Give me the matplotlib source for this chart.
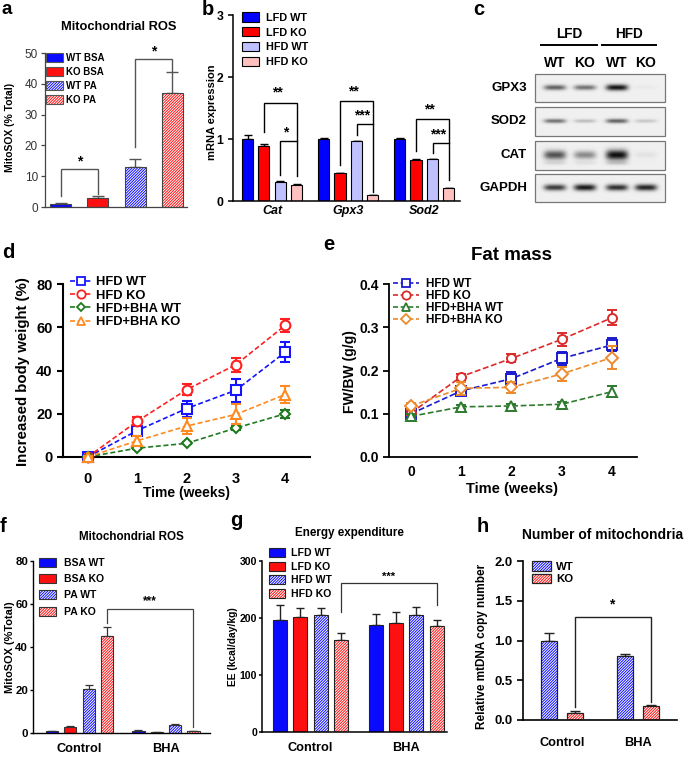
import numpy as np
import matplotlib
matplotlib.use('Agg')
import matplotlib.pyplot as plt
from matplotlib.patches import Patch, Rectangle
from matplotlib.lines import Line2D
from matplotlib.legend_handler import HandlerTuple

plt.rcParams['font.family'] = ['Liberation Sans', 'DejaVu Sans']
plt.rcParams['hatch.linewidth'] = 0.7

# ================= DATA =================
# a: Mitochondrial ROS
a_labels = ['WT BSA', 'KO BSA', 'WT PA', 'KO PA']
a_vals = [1.0, 3.0, 13.0, 37.0]
a_err = [0.2, 0.5, 2.5, 6.7]

# b: mRNA expression
b_genes = ['Cat', 'Gpx3', 'Sod2']
b_series = ['LFD WT', 'LFD KO', 'HFD WT', 'HFD KO']
b_lfd_wt = [1.00, 1.00, 1.00]
b_lfd_ko = [0.89, 0.45, 0.66]
b_hfd_wt = [0.31, 0.96, 0.67]
b_hfd_ko = [0.26, 0.09, 0.21]
b_lfd_wt_err = [0.07, 0.02, 0.015]
b_lfd_ko_err = [0.03, 0.005, 0.015]
b_hfd_wt_err = [0.01, 0.01, 0.01]
b_hfd_ko_err = [0.01, 0.005, 0.005]

# c: western blot band intensities (lanes: LFD WT, LFD KO, HFD WT, HFD KO)
c_diets = ['LFD', 'HFD']
c_lanes = ['WT', 'KO', 'WT', 'KO']
c_proteins = ['GPX3', 'SOD2', 'CAT', 'GAPDH']
c_gpx3 = [0.62, 0.55, 0.97, 0.03]
c_sod2 = [0.55, 0.22, 0.62, 0.18]
c_cat = [0.70, 0.45, 1.00, 0.06]
c_gapdh = [0.80, 0.95, 0.85, 0.90]

# d: increased body weight
weeks = [0, 1, 2, 3, 4]
d_series = ['HFD WT', 'HFD KO', 'HFD+BHA WT', 'HFD+BHA KO']
d_hfd_wt = [0, 12.2, 22.4, 30.9, 48.5]
d_hfd_ko = [0, 16.5, 31.1, 42.7, 60.9]
d_bha_wt = [0, 4.1, 6.3, 13.4, 20.0]
d_bha_ko = [0, 7.5, 14.3, 19.7, 28.9]
d_hfd_wt_err = [0.5, 1.8, 3.7, 5.4, 4.8]
d_hfd_ko_err = [0.5, 1.9, 2.5, 3.3, 3.1]
d_bha_wt_err = [0.3, 0.5, 0.5, 0.8, 1.9]
d_bha_ko_err = [0.5, 2.2, 3.6, 4.6, 4.0]

# e: fat mass
e_hfd_wt = [0.100, 0.153, 0.181, 0.228, 0.259]
e_hfd_ko = [0.102, 0.186, 0.228, 0.272, 0.322]
e_bha_wt = [0.094, 0.116, 0.118, 0.122, 0.151]
e_bha_ko = [0.118, 0.159, 0.161, 0.192, 0.230]
e_hfd_wt_err = [0.006, 0.010, 0.015, 0.015, 0.015]
e_hfd_ko_err = [0.006, 0.007, 0.009, 0.015, 0.017]
e_bha_wt_err = [0.006, 0.005, 0.005, 0.005, 0.013]
e_bha_ko_err = [0.006, 0.015, 0.012, 0.017, 0.026]

# f: Mitochondrial ROS, Control vs BHA
fgh_groups = ['Control', 'BHA']
f_series = ['BSA WT', 'BSA KO', 'PA WT', 'PA KO']
f_bsa_wt = [1.0, 1.0]
f_bsa_ko = [3.0, 0.5]
f_pa_wt = [20.5, 3.6]
f_pa_ko = [45.3, 0.8]
f_bsa_wt_err = [0.1, 0.2]
f_bsa_ko_err = [0.4, 0.1]
f_pa_wt_err = [1.9, 0.6]
f_pa_ko_err = [4.2, 0.2]

# g: energy expenditure
g_series = ['LFD WT', 'LFD KO', 'HFD WT', 'HFD KO']
g_lfd_wt = [196, 188]
g_lfd_ko = [201, 191]
g_hfd_wt = [205, 206]
g_hfd_ko = [161, 186]
g_lfd_wt_err = [26, 19]
g_lfd_ko_err = [16, 20]
g_hfd_wt_err = [13, 13]
g_hfd_ko_err = [13, 11]

# h: mtDNA copy number
h_series = ['WT', 'KO']
h_wt = [1.0, 0.8]
h_ko = [0.09, 0.18]
h_wt_err = [0.09, 0.03]
h_ko_err = [0.02, 0.01]

# ================= FIGURE =================
W, H = 685, 757
fig = plt.figure(figsize=(W / 100, H / 100), dpi=100)


def rect(x0, y0, x1, y1):
    return [x0 / W, 1 - y1 / H, (x1 - x0) / W, (y1 - y0) / H]


def ftext(x, y, s, **kw):
    fig.text(x / W, 1 - y / H, s, **kw)


BLUE = '#0a0aff'
RED = '#ff1010'
HATCH = '/' * 12
TUPLE = {tuple: HandlerTuple(ndivide=1, pad=0)}


def hbar(ax, x, h, w, color, hatched, edge, lw):
    if hatched:
        ax.bar(x, h, w, color='white', edgecolor=color, hatch=HATCH, linewidth=0, zorder=2)
        ax.bar(x, h, w, fill=False, edgecolor=edge, linewidth=lw, zorder=3)
    else:
        ax.bar(x, h, w, color=color, edgecolor=edge, linewidth=lw, zorder=2)


def legend_handle(color, hatched, edge, lw):
    if hatched:
        return (Patch(facecolor='white', edgecolor=color, hatch=HATCH, linewidth=0),
                Patch(facecolor='none', edgecolor=edge, linewidth=lw))
    return Patch(facecolor=color, edgecolor=edge, linewidth=lw)


def style(ax, lw=1.1, color='k'):
    for s in ['top', 'right']:
        ax.spines[s].set_visible(False)
    for s in ['left', 'bottom']:
        ax.spines[s].set_linewidth(lw)
        ax.spines[s].set_color(color)
    ax.tick_params(width=lw, length=3.5, colors=color, direction='out')


def bracket(ax, x1, x2, ytop, yl, yr, color='k', lw=1.0):
    ax.plot([x1, x1, x2, x2], [yl, ytop, ytop, yr], color=color, lw=lw,
            solid_joinstyle='miter', zorder=4, clip_on=False)


def ylab(ax, s, xpx, ypx, axbox, size):
    x0, y0, x1, y1 = axbox
    ax.set_ylabel(s, fontsize=size, fontweight='bold')
    ax.yaxis.set_label_coords((xpx - x0) / (x1 - x0), (y1 - ypx) / (y1 - y0))
    ax.yaxis.label.set_verticalalignment('center')


BOLD = dict(fontweight='bold')

# ---------- panel a ----------
boxa = (45, 53, 187, 207)
axa = fig.add_axes(rect(*boxa))
a_x = np.arange(len(a_vals))
a_colors = [BLUE, RED, BLUE, RED]
a_hatched = [False, False, True, True]
for i in range(len(a_vals)):
    hbar(axa, a_x[i], a_vals[i], 0.56, a_colors[i], a_hatched[i], '#444444', 0.8)
axa.errorbar(a_x, a_vals, yerr=[np.zeros(len(a_vals)), a_err], fmt='none', ecolor='#555555',
             elinewidth=1.0, capsize=4, capthick=1.0, zorder=1)
style(axa, lw=0.9, color='#444444')
axa.set_xlim(-0.42, 3.39)
axa.set_ylim(0, 50)
axa.set_xticks([])
axa.set_yticks([0, 10, 20, 30, 40, 50])
axa.tick_params(axis='y', labelsize=8.5, labelcolor='#333333', length=3, pad=2)
ylab(axa, 'MitoSOX (% Total)', 10, 127, boxa, 7.5)
axa.legend([legend_handle(a_colors[i], a_hatched[i], '#555555', 0.8) for i in range(4)], a_labels,
           handler_map=TUPLE, loc='upper left',
           bbox_to_anchor=(0.005, 1.0), frameon=False, borderpad=0, borderaxespad=0,
           handlelength=1.75, handleheight=1.1, labelspacing=0.4, handletextpad=0.35,
           prop=dict(size=7, weight='bold'))
bracket(axa, 0, 1, 12.3, 3.6, 4.3, color='#555555')
bracket(axa, 2, 3, 47.9, 19.6, 44.0, color='#555555')
axa.text(0.5, 12.5, '*', ha='center', va='bottom', fontsize=10, **BOLD)
axa.text(2.5, 48.1, '*', ha='center', va='bottom', fontsize=10, **BOLD)
ftext(119, 27, 'Mitochondrial ROS', ha='center', va='center', fontsize=9.3, **BOLD)

# ---------- panel b ----------
boxb = (233, 15, 460, 201)
axb = fig.add_axes(rect(*boxb))
b_x = np.arange(len(b_genes))
b_off = [-0.322, -0.11, 0.11, 0.322]
b_colors = ['#0000ff', '#ff0000', '#c0c0ff', '#ffc0c0']
b_vals = [b_lfd_wt, b_lfd_ko, b_hfd_wt, b_hfd_ko]
b_errs = [b_lfd_wt_err, b_lfd_ko_err, b_hfd_wt_err, b_hfd_ko_err]
for k in range(4):
    axb.bar(b_x + b_off[k], b_vals[k], 0.151, color=b_colors[k], edgecolor='k', linewidth=0.8, zorder=2)
    axb.errorbar(b_x + b_off[k], b_vals[k], yerr=[np.zeros(3), b_errs[k]], fmt='none', ecolor='k',
                 elinewidth=1.0, capsize=2.6, capthick=1.0, zorder=1)
style(axb, lw=1.1)
axb.set_xlim(-0.513, 2.47)
axb.set_ylim(0, 3)
axb.set_yticks([0, 1, 2, 3], labels=['0', '1', '2', '3'], fontsize=8.8, fontweight='bold')
axb.set_xticks(b_x, labels=b_genes, fontsize=9, fontweight='bold', fontstyle='italic')
axb.tick_params(axis='x', length=0, pad=3)
ylab(axb, 'mRNA expression', 212, 112, boxb, 8)
axb.legend([Patch(facecolor=c, edgecolor='k', linewidth=0.8) for c in b_colors], b_series,
           loc='upper left', bbox_to_anchor=(0.04, 1.015), frameon=False, borderpad=0,
           borderaxespad=0, handlelength=1.6, handleheight=0.95, labelspacing=0.42,
           handletextpad=0.6, prop=dict(size=7.8, weight='bold'))
for g, (t1, l1, r1, s1, t2, l2, s2, lab1, lab2) in enumerate([
        (1.575, 1.12, 0.40, 1.63, 0.97, 0.42, 1.00, '**', '*'),
        (1.61, 0.58, 0.15, 1.66, 1.24, 1.06, 1.27, '**', '***'),
        (1.32, 0.80, 0.34, 1.37, 0.93, 0.77, 0.96, '**', '***')]):
    bracket(axb, g + b_off[1], g + b_off[3], t1, l1, r1)
    bracket(axb, g + b_off[2], g + b_off[3], t2, l2, t2)
    axb.text(g + (b_off[1] + b_off[3]) / 2 - 0.04, s1, lab1, ha='center', va='bottom', fontsize=10, **BOLD)
    axb.text(g + (b_off[2] + b_off[3]) / 2 - 0.03, s2, lab2, ha='center', va='bottom', fontsize=10, **BOLD)

# ---------- panel c (western blot) ----------
axc = fig.add_axes(rect(470, 0, 685, 230))
axc.axis('off')
lane_x = [555, 585, 617, 646]
row_y = [(74, 102), (107, 136), (141, 170), (174, 202)]
row_sig = [2.6, 2.2, 4.2, 2.8]
c_rows = [c_gpx3, c_sod2, c_cat, c_gapdh]
bx0, bx1 = 535, 665
for r, (inten, (y0, y1)) in enumerate(zip(c_rows, row_y)):
    xs = np.arange(bx0, bx1) + 0.5
    ys = np.arange(y0, y1) + 0.5
    yc = (y0 + y1) / 2 - 0.5
    dark = np.zeros((len(ys), len(xs)))
    for lx, v in zip(lane_x, inten):
        sig = row_sig[r] * (0.75 + 0.45 * v)
        prof_x = np.exp(-np.abs((xs - lx) / 11.0) ** 4)
        prof_y = np.exp(-((ys - yc) / sig) ** 2)
        dark += v * np.outer(prof_y, prof_x)
        if r == 2:
            prof_y2 = np.exp(-((ys - (yc + 8)) / 2.0) ** 2)
            dark += 0.15 * v * np.outer(prof_y2, prof_x)
    img = 0.94 - 0.88 * np.clip(dark, 0, 1)
    axc.imshow(img, cmap='gray', vmin=0, vmax=1, extent=(bx0, bx1, y1, y0), aspect='auto',
               interpolation='bilinear', zorder=1)
    axc.add_patch(Rectangle((bx0, y0), bx1 - bx0, y1 - y0, fill=False, edgecolor='#777777', lw=0.9, zorder=2))
    axc.text(527, (y0 + y1) / 2, c_proteins[r], ha='right', va='center', fontsize=9.5, **BOLD)
axc.set_xlim(470, 685)
axc.set_ylim(230, 0)
for lx, lab in zip(lane_x, c_lanes):
    axc.text(lx, 63, lab, ha='center', va='center', fontsize=10, **BOLD)
for (xa, xb), lab in zip([(541, 597), (602, 656)], c_diets):
    axc.plot([xa, xb], [45, 45], color='k', lw=1.4)
    axc.text((xa + xb) / 2, 34, lab, ha='center', va='center', fontsize=9.8, **BOLD)

# ---------- panel d ----------
boxd = (63, 284, 310, 457)
axd = fig.add_axes(rect(*boxd))
d_vals = [d_hfd_wt, d_hfd_ko, d_bha_wt, d_bha_ko]
d_errs = [d_hfd_wt_err, d_hfd_ko_err, d_bha_wt_err, d_bha_ko_err]
d_colors = ['#1414ff', '#ff2020', '#1f7a1f', '#ff8a1f']
d_marks = ['s', 'o', 'D', '^']
d_ms = [7, 7, 5.5, 6.5]
for k in range(4):
    axd.errorbar(weeks, d_vals[k], yerr=d_errs[k], color=d_colors[k], ls='--', dashes=(3, 1.6), lw=1.2,
                 marker=d_marks[k], ms=d_ms[k], mfc='white', mec=d_colors[k], mew=1.5,
                 elinewidth=1.5, capsize=3.5, capthick=1.5, zorder=3 + k, clip_on=False)
style(axd, lw=1.5)
axd.set_xlim(-0.5, 4.5)
axd.set_ylim(0, 80)
axd.set_yticks([0, 20, 40, 60, 80], labels=['0', '20', '40', '60', '80'], fontsize=10.5, fontweight='bold')
axd.set_xticks(weeks, labels=[str(w) for w in weeks], fontsize=10.5, fontweight='bold')
axd.tick_params(axis='x', length=0, pad=11)
axd.tick_params(axis='y', length=4)
ylab(axd, 'Increased body weight (%)', 23, 372, boxd, 10.8)
axd.set_xlabel('Time (weeks)', fontsize=10, fontweight='bold')
axd.xaxis.set_label_coords((187 - 63) / 247, (457 - 493) / 173)
axd.xaxis.label.set_verticalalignment('center')
d_handles = [Line2D([0], [0], color=d_colors[k], ls='--', dashes=(3, 1.6), lw=1.2, marker=d_marks[k],
                    ms=d_ms[k] - 1, mfc='white', mec=d_colors[k], mew=1.3) for k in range(4)]
axd.legend(d_handles, d_series, loc='upper left', bbox_to_anchor=(0.03, 1.045), frameon=False,
           borderpad=0, borderaxespad=0, handlelength=1.6, labelspacing=0.1, handletextpad=0.4,
           prop=dict(size=9.3, weight='bold'))

# ---------- panel e ----------
boxe = (389, 284, 637, 457)
axe = fig.add_axes(rect(*boxe))
e_vals = [e_hfd_wt, e_hfd_ko, e_bha_wt, e_bha_ko]
e_errs = [e_hfd_wt_err, e_hfd_ko_err, e_bha_wt_err, e_bha_ko_err]
e_colors = ['#1a1ad0', '#dd2a2a', '#2e7a2e', '#ec8a2c']
e_marks = ['s', 'o', '^', 'D']
e_ms = [6.5, 6.5, 6.5, 6.0]
for k in range(4):
    axe.errorbar(weeks, e_vals[k], yerr=e_errs[k], color=e_colors[k], ls='--', dashes=(3.5, 1.6), lw=1.2,
                 marker=e_marks[k], ms=e_ms[k], mfc='white', mec=e_colors[k], mew=1.4,
                 elinewidth=1.4, capsize=3.5, capthick=1.4, zorder=3 + k)
style(axe, lw=1.3)
axe.set_xlim(-0.44, 4.5)
axe.set_ylim(0, 0.4)
axe.set_yticks([0, 0.1, 0.2, 0.3, 0.4], labels=['0.0', '0.1', '0.2', '0.3', '0.4'], fontsize=10,
               fontweight='bold')
axe.set_xticks(weeks, labels=[str(w) for w in weeks], fontsize=10, fontweight='bold')
axe.tick_params(axis='x', length=0, pad=6)
axe.tick_params(axis='y', length=4)
ylab(axe, 'FW/BW (g/g)', 350, 372, boxe, 10)
axe.set_xlabel('Time (weeks)', fontsize=10.5, fontweight='bold')
axe.xaxis.set_label_coords((512 - 389) / 248, (457 - 489) / 173)
axe.xaxis.label.set_verticalalignment('center')
e_handles = [Line2D([0], [0], color=e_colors[k], ls='--', dashes=(3, 1.6), lw=1.2, marker=e_marks[k],
                    ms=e_ms[k] - 0.5, mfc='white', mec=e_colors[k], mew=1.3) for k in range(4)]
axe.legend(e_handles, d_series, loc='upper left', bbox_to_anchor=(0.015, 1.035), frameon=False,
           borderpad=0, borderaxespad=0, handlelength=2.2, labelspacing=0.0, handletextpad=0.6,
           prop=dict(size=8.5, weight='bold'))
ftext(512, 255, 'Fat mass', ha='center', va='center', fontsize=13.5, **BOLD)

# ---------- panel f ----------
boxf = (33, 561, 210, 733)
axf = fig.add_axes(rect(*boxf))
f_x = np.arange(len(fgh_groups))
f_off = [-0.318, -0.106, 0.106, 0.318]
f_vals = [f_bsa_wt, f_bsa_ko, f_pa_wt, f_pa_ko]
f_errs = [f_bsa_wt_err, f_bsa_ko_err, f_pa_wt_err, f_pa_ko_err]
f_colors = [BLUE, RED, BLUE, RED]
f_hatched = [False, False, True, True]
for k in range(4):
    for j in range(2):
        hbar(axf, f_x[j] + f_off[k], f_vals[k][j], 0.142, f_colors[k], f_hatched[k], '#333333', 0.8)
    axf.errorbar(f_x + f_off[k], f_vals[k], yerr=[np.zeros(2), f_errs[k]], fmt='none', ecolor='#333333',
                 elinewidth=0.9, capsize=2.8, capthick=0.9, zorder=1)
style(axf, lw=1.0)
axf.set_xlim(-0.538, 1.509)
axf.set_ylim(0, 80)
axf.set_yticks([0, 20, 40, 60, 80], labels=['0', '20', '40', '60', '80'], fontsize=8.2, fontweight='bold')
axf.set_xticks(f_x, labels=fgh_groups, fontsize=9.2, fontweight='bold')
axf.tick_params(axis='x', length=0, pad=7)
axf.tick_params(axis='y', length=2.5, pad=1)
ylab(axf, 'MitoSOX (%Total)', 10, 647, boxf, 7.9)
axf.legend([legend_handle(f_colors[i], f_hatched[i], '#333333', 0.8) for i in range(4)], f_series,
           handler_map=TUPLE, loc='upper left',
           bbox_to_anchor=(0.034, 1.02), frameon=False, borderpad=0, borderaxespad=0,
           handlelength=1.6, handleheight=0.95, labelspacing=0.6, handletextpad=0.8,
           prop=dict(size=7.5, weight='bold'))
bracket(axf, f_off[3], 1 + f_off[3], 57.5, 51, 2.8, color='#444444', lw=0.9)
axf.text(0.5 + f_off[3], 58.5, '***', ha='center', va='bottom', fontsize=8.5, **BOLD)
ftext(131, 537, 'Mitochondrial ROS', ha='center', va='center', fontsize=8.4, **BOLD)

# ---------- panel g ----------
boxg = (262, 561, 447, 732)
axg = fig.add_axes(rect(*boxg))
g_off = [-0.319, -0.108, 0.108, 0.322]
g_vals = [g_lfd_wt, g_lfd_ko, g_hfd_wt, g_hfd_ko]
g_errs = [g_lfd_wt_err, g_lfd_ko_err, g_hfd_wt_err, g_hfd_ko_err]
g_hatched = [False, False, True, True]
g_colors = [BLUE, RED, BLUE, RED]
for k in range(4):
    for j in range(2):
        hbar(axg, f_x[j] + g_off[k], g_vals[k][j], 0.147, g_colors[k], g_hatched[k], '#222222', 0.8)
    axg.errorbar(f_x + g_off[k], g_vals[k], yerr=[np.zeros(2), g_errs[k]], fmt='none', ecolor='#222222',
                 elinewidth=1.0, capsize=3.0, capthick=1.0, zorder=1)
style(axg, lw=1.1)
axg.set_xlim(-0.508, 1.429)
axg.set_ylim(0, 300)
axg.set_yticks([0, 100, 200, 300], labels=['0', '100', '200', '300'], fontsize=7.6, fontweight='bold')
axg.set_xticks(f_x, labels=fgh_groups, fontsize=9.2, fontweight='bold')
axg.tick_params(axis='x', length=0, pad=7)
axg.tick_params(axis='y', length=2.5, pad=1)
ylab(axg, 'EE (kcal/day/kg)', 233, 647, boxg, 7.4)
axg.legend([legend_handle(g_colors[i], g_hatched[i], '#222222', 0.8) for i in range(4)], g_series,
           handler_map=TUPLE, loc='upper left',
           bbox_to_anchor=(0.038, 1.075), frameon=False, borderpad=0, borderaxespad=0,
           handlelength=1.5, handleheight=0.95, labelspacing=0.32, handletextpad=0.6,
           prop=dict(size=7.6, weight='bold'))
bracket(axg, g_off[3], 1 + g_off[3], 262, 211, 223, color='#333333', lw=0.9)
axg.text(0.5 + g_off[3], 263, '***', ha='center', va='bottom', fontsize=8, **BOLD)
ftext(349, 533, 'Energy expenditure', ha='center', va='center', fontsize=8.4, **BOLD)

# ---------- panel h ----------
boxh = (523, 561, 677, 720)
axh = fig.add_axes(rect(*boxh))
h_off = [-0.174, 0.174]
h_vals = [h_wt, h_ko]
h_errs = [h_wt_err, h_ko_err]
h_colors = [BLUE, RED]
for k in range(2):
    for j in range(2):
        hbar(axh, f_x[j] + h_off[k], h_vals[k][j], 0.205, h_colors[k], True, '#222222', 0.9)
    axh.errorbar(f_x + h_off[k], h_vals[k], yerr=[np.zeros(2), h_errs[k]], fmt='none', ecolor='#222222',
                 elinewidth=1.0, capsize=3.5, capthick=1.0, zorder=1)
style(axh, lw=1.2)
axh.set_xlim(-0.513, 1.513)
axh.set_ylim(0, 2)
axh.set_yticks([0, 0.5, 1.0, 1.5, 2.0], labels=['0.0', '0.5', '1.0', '1.5', '2.0'], fontsize=9.4,
               fontweight='bold')
axh.set_xticks(f_x, labels=fgh_groups, fontsize=9.2, fontweight='bold')
axh.tick_params(axis='x', length=0, pad=12)
axh.tick_params(axis='y', length=4)
ylab(axh, 'Relative mtDNA copy number', 482, 646, boxh, 8.5)
axh.legend([legend_handle(h_colors[i], True, '#222222', 0.9) for i in range(2)], h_series,
           handler_map=TUPLE, loc='upper left',
           bbox_to_anchor=(0.058, 1.0), frameon=False, borderpad=0, borderaxespad=0,
           handlelength=1.7, handleheight=0.95, labelspacing=0.15, handletextpad=0.4,
           prop=dict(size=8.2, weight='bold'))
bracket(axh, h_off[1], 1 + h_off[1], 1.3, 0.16, 0.23, color='#222222', lw=1.0)
axh.text(0.5 + h_off[1] - 0.02, 1.36, '*', ha='center', va='bottom', fontsize=10, **BOLD)
ftext(522, 535, 'Number of mitochondria', ha='left', va='center', fontsize=10, **BOLD)

# ---------- panel letters ----------
ftext(2, 0.5, 'a', ha='left', va='top', fontsize=13.5, **BOLD)
for lab, x, y in [('b', 202, 15), ('c', 473, 15), ('d', 2, 258),
                  ('e', 323, 250), ('f', 0, 532), ('g', 230, 526), ('h', 477, 532)]:
    ftext(x, y, lab, ha='left', va='baseline', fontsize=14.5, **BOLD)

fig.savefig('out.png', dpi=100)
